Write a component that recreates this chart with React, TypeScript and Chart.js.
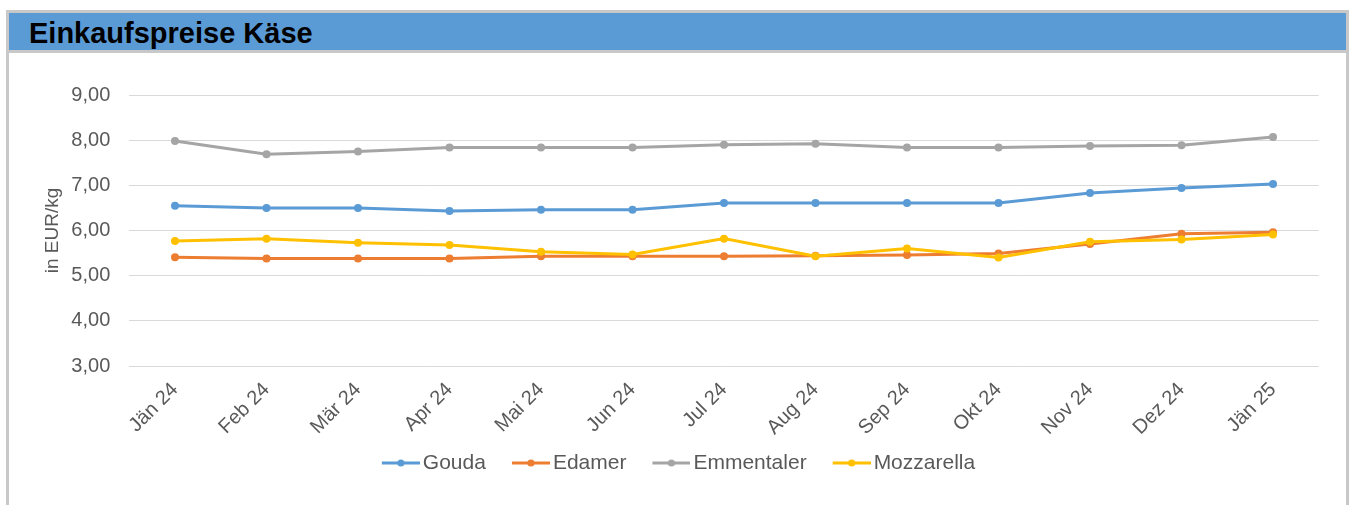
import React, { useEffect, useRef } from 'react';
import { Chart, registerables } from 'chart.js';

Chart.register(...registerables);

const categories = ['Jän 24', 'Feb 24', 'Mär 24', 'Apr 24', 'Mai 24', 'Jun 24', 'Jul 24', 'Aug 24', 'Sep 24', 'Okt 24', 'Nov 24', 'Dez 24', 'Jän 25'];
const gouda = [6.55, 6.5, 6.5, 6.43, 6.46, 6.46, 6.61, 6.61, 6.61, 6.61, 6.83, 6.94, 7.03];
const edamer = [5.41, 5.38, 5.38, 5.38, 5.43, 5.43, 5.43, 5.44, 5.46, 5.49, 5.7, 5.93, 5.96];
const emmentaler = [7.98, 7.69, 7.75, 7.84, 7.84, 7.84, 7.9, 7.92, 7.84, 7.84, 7.87, 7.89, 8.07];
const mozzarella = [5.77, 5.82, 5.73, 5.68, 5.53, 5.47, 5.82, 5.43, 5.6, 5.4, 5.75, 5.8, 5.91];
const yTicks = [3, 4, 5, 6, 7, 8, 9];

const seriesNames = ['Gouda', 'Edamer', 'Emmentaler', 'Mozzarella'];
const seriesColors = ['#5B9BD5', '#ED7D31', '#A5A5A5', '#FFC000'];
const seriesData = [gouda, edamer, emmentaler, mozzarella];

const FONT = "'Liberation Sans', Arial, sans-serif";
const TEXT = '#595959';

// legend marker: transparent left part gives item spacing, then a line with a dot
function legendMarker(color: string): HTMLCanvasElement {
  const c = document.createElement('canvas');
  c.width = 65;
  c.height = 10;
  const ctx = c.getContext('2d')!;
  ctx.strokeStyle = color;
  ctx.lineWidth = 3;
  ctx.beginPath();
  ctx.moveTo(27, 5);
  ctx.lineTo(65, 5);
  ctx.stroke();
  ctx.fillStyle = color;
  ctx.beginPath();
  ctx.arc(46, 5, 3.6, 0, Math.PI * 2);
  ctx.fill();
  return c;
}

export default function App() {
  const ref = useRef<HTMLCanvasElement>(null);

  useEffect(() => {
    if (!ref.current) return;
    Chart.defaults.font.family = FONT;
    const markers = seriesColors.map(legendMarker);
    const chart = new Chart(ref.current, {
      type: 'line',
      data: {
        labels: categories,
        datasets: seriesNames.map((name, i) => ({
          label: name,
          data: seriesData[i],
          borderColor: seriesColors[i],
          backgroundColor: seriesColors[i],
          pointBackgroundColor: seriesColors[i],
          pointBorderWidth: 0,
          pointRadius: 4,
          borderWidth: 3,
          tension: 0,
          fill: false,
          order: seriesNames.length - i,
        })),
      },
      options: {
        responsive: false,
        animation: false,
        devicePixelRatio: 1,
        layout: { padding: { top: 41, left: 9.75, right: 27.25, bottom: 21.5 } },
        plugins: {
          tooltip: { enabled: false },
          title: { display: false },
          legend: {
            position: 'bottom',
            labels: {
              usePointStyle: true,
              pointStyleWidth: 50,
              padding: 6.5,
              color: TEXT,
              font: { size: 21, family: FONT },
              generateLabels: (ch: any) =>
                ch.data.datasets.map((ds: any, i: number) => ({
                  text: ds.label,
                  datasetIndex: i,
                  pointStyle: markers[i],
                  fontColor: TEXT,
                  fillStyle: seriesColors[i],
                  strokeStyle: seriesColors[i],
                  lineWidth: 0,
                  hidden: false,
                })),
            },
          },
        },
        scales: {
          x: {
            type: 'category',
            offset: true,
            grid: { display: false, drawTicks: false },
            border: { display: false },
            ticks: {
              minRotation: 45,
              maxRotation: 45,
              autoSkip: false,
              padding: 12,
              color: TEXT,
              font: { size: 20, family: FONT },
            },
            afterFit: (s: any) => {
              s.height = 80;
            },
          },
          y: {
            min: 3,
            max: 9,
            grid: { color: '#D9D9D9', lineWidth: 1, drawTicks: false },
            border: { display: false },
            afterBuildTicks: (s: any) => {
              s.ticks = yTicks.map((v) => ({ value: v }));
            },
            ticks: {
              padding: 19,
              color: TEXT,
              font: { size: 20, family: FONT },
              callback: (v: any) => Number(v).toFixed(2).replace('.', ','),
            },
            title: {
              display: true,
              text: 'in EUR/kg',
              color: TEXT,
              padding: { top: 22.85, bottom: 4 },
              font: { size: 19, family: FONT },
            },
            afterFit: (s: any) => {
              s.width = 110.5;
            },
          },
        },
      },
    });
    return () => chart.destroy();
  }, []);

  return (
    <div style={{ position: 'absolute', left: 0, top: 0, width: 1351, height: 505, overflow: 'hidden', background: '#fff' }}>
      <div
        style={{
          position: 'absolute',
          left: 6,
          top: 10,
          width: 1337,
          height: 500,
          borderLeft: '3px solid #C8C8C8',
          borderRight: '3px solid #C8C8C8',
          borderTop: '3px solid #C8C8C8',
        }}
      />
      <div style={{ position: 'absolute', left: 9, top: 13, width: 1337, height: 37, background: '#5B9BD5' }} />
      <div style={{ position: 'absolute', left: 9, top: 50, width: 1337, height: 3, background: '#C8C8C8' }} />
      <div
        style={{
          position: 'absolute',
          left: 29,
          top: 18.5,
          fontFamily: FONT,
          fontWeight: 'bold',
          fontSize: 29,
          lineHeight: '29px',
          color: '#000',
          whiteSpace: 'nowrap',
        }}
      >
        Einkaufspreise Käse
      </div>
      <canvas ref={ref} width={1337} height={451} style={{ position: 'absolute', left: 9, top: 54, width: 1337, height: 451 }} />
    </div>
  );
}
